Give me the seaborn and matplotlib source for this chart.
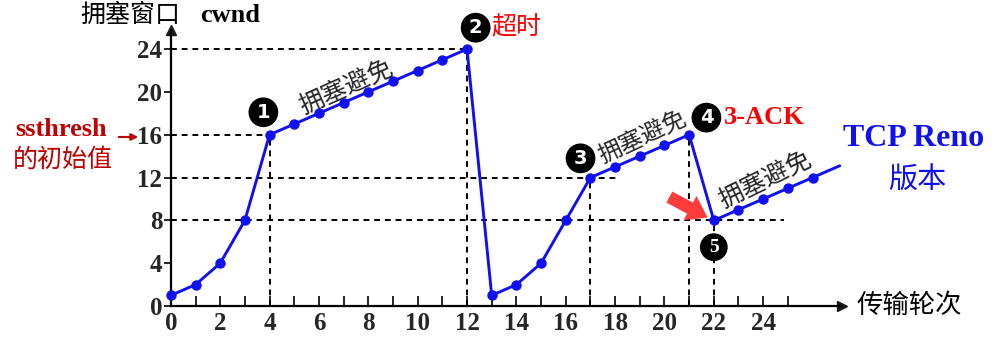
import numpy as np
import pandas as pd
import matplotlib.pyplot as plt
import seaborn as sns

# 传输轮次 と cwnd
rounds = list(range(0, 27))
cwnd = [1, 2, 4, 8, 16, 17, 18, 19, 20, 21, 22, 23, 24,
        1, 2, 4, 8, 12, 13, 14, 15, 16,
        8, 9, 10, 11, 12]
tail_x = [26, 27.1]
tail_y = [12, 13.1]

# 破線の補助線
h_guide_y = [24, 16, 12, 8]
h_guide_xmax = [12, 4, 18.1, 24.85]
v_guide_x = [4, 12, 17, 21, 22]
v_guide_ymax = [16, 24, 12, 16, 8]

x_labels = list(range(0, 25, 2))
y_labels = list(range(0, 25, 4))

sns.set_theme(style='white')
cjk = ['Noto Sans CJK SC', 'DejaVu Sans']
serif = ['Liberation Serif', 'DejaVu Serif']
plt.rcParams['font.family'] = cjk

blue = '#1010f0'
fig = plt.figure(figsize=(9.99, 3.51), dpi=100)
ax = fig.add_axes([0.171, 0.128, 0.672, 0.787])

df = pd.DataFrame({'round': rounds, 'cwnd': cwnd})
sns.lineplot(data=df, x='round', y='cwnd', sort=False, color=blue, lw=2.1,
             marker='o', markersize=7.5, markeredgewidth=0, clip_on=False, zorder=5, ax=ax)
ax.plot(tail_x, tail_y, color=blue, lw=2.1, clip_on=False, zorder=5)

for y, xm in zip(h_guide_y, h_guide_xmax):
    ax.plot([0, xm], [y, y], color='black', lw=1.4, ls=(0, (3, 2.5)), zorder=2)
for x, ym in zip(v_guide_x, v_guide_ymax):
    ax.plot([x, x], [0, ym], color='black', lw=1.4, ls=(0, (3, 2.5)), zorder=2)

ax.set_xlim(0, 27.2)
ax.set_ylim(0, 25.8)
ax.set_xlabel('')
ax.set_ylabel('')
for s in ['top', 'right']:
    ax.spines[s].set_visible(False)
for s in ['left', 'bottom']:
    ax.spines[s].set_color('black')
    ax.spines[s].set_linewidth(1.6)
ax.plot(1, 0, '>k', ms=7, transform=ax.get_yaxis_transform(), clip_on=False)
ax.plot(0, 1, '^k', ms=7, transform=ax.get_xaxis_transform(), clip_on=False)

ax.set_xticks(x_labels)
ax.set_xticks(list(range(1, 26, 2)), minor=True)
ax.set_yticks(y_labels)
ax.tick_params(axis='x', which='both', direction='in', length=7, width=1.2,
               color='black', bottom=True, pad=4)
ax.tick_params(axis='y', direction='out', length=5, width=1.2, color='black',
               left=True, pad=1)
ax.set_xticklabels([str(v) for v in x_labels], fontfamily=serif,
                   fontweight='bold', fontsize=18)
ax.set_yticklabels([str(v) for v in y_labels], fontfamily=serif,
                   fontweight='bold', fontsize=18)

# 軸ラベル
fig.text(0.080, 0.957, '拥塞窗口', fontsize=18, va='center', ha='left', color='black')
fig.text(0.200, 0.955, 'cwnd', fontsize=19, va='center', ha='left',
         fontfamily=serif, fontweight='bold', color='black')
fig.text(0.857, 0.130, '传输轮次', fontsize=19, va='center', ha='left', color='black')

# ssthresh
dark_red = '#c00000'
fig.text(0.015, 0.630, 'ssthresh', fontsize=19, va='center', ha='left',
         fontfamily=serif, fontweight='bold', color=dark_red)
fig.text(0.013, 0.545, '的初始值', fontsize=18, va='center', ha='left', color=dark_red)
ax.annotate('', xy=(141 / 999, 1 - 137 / 351), xytext=(116 / 999, 1 - 137 / 351),
            xycoords='figure fraction', textcoords='figure fraction',
            arrowprops=dict(arrowstyle='-|>', color=dark_red, lw=1.5,
                            mutation_scale=10))

# TCP Reno
fig.text(0.914, 0.605, 'TCP Reno', fontsize=23, va='center', ha='center',
         fontfamily=serif, fontweight='bold', color=blue)
fig.text(0.918, 0.487, '版本', fontsize=21, va='center', ha='center', color=blue)

# 番号の丸
def circ(x, y, n, fam='DejaVu Sans'):
    ax.text(x, y, n, fontsize=14, fontweight='bold', color='white',
            family=fam, ha='center', va='center', clip_on=False, zorder=10,
            bbox=dict(boxstyle='circle,pad=0.24', fc='black', ec='black'))

circ(3.75, 18.1, '1')
circ(12.35, 26.0, '2')
circ(16.6, 13.8, '3')
circ(21.7, 17.6, '4')
circ(22.0, 5.5, '5', fam=serif)

ax.text(13.0, 26.0, '超时', fontsize=18, color='#ff0000', ha='left', va='center',
        clip_on=False)
ax.text(22.4, 17.6, '3-ACK', fontsize=19, color='#ff0000', ha='left', va='center',
        fontfamily=serif, fontweight='bold')

# 拥塞避免
ax.text(7.1, 20.4, '拥塞避免', fontsize=18, rotation=24, ha='center', va='center',
        rotation_mode='anchor')
ax.text(19.1, 15.8, '拥塞避免', fontsize=17, rotation=25, ha='center', va='center',
        rotation_mode='anchor')
ax.text(24.1, 11.8, '拥塞避免', fontsize=18, rotation=26, ha='center', va='center',
        rotation_mode='anchor')

# 赤い矢印
ax.annotate('', xy=(21.85, 8.15), xytext=(20.1, 10.3),
            arrowprops=dict(arrowstyle='simple,head_length=0.8,head_width=1.1,tail_width=0.5',
                            color='#ff3b3b', lw=0, mutation_scale=18), zorder=6)

plt.savefig('out.png', dpi=100)
plt.close('all')
